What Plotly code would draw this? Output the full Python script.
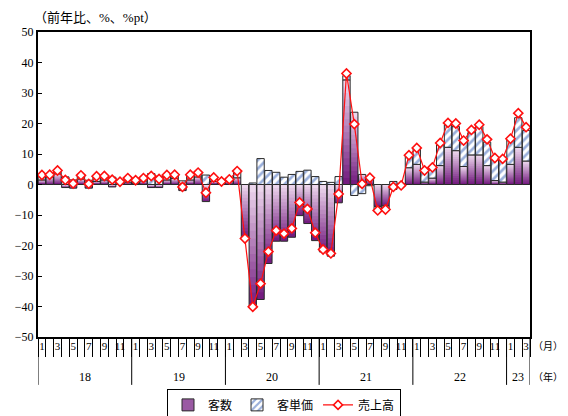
import plotly.graph_objects as go

# Year-on-year change (%, %pt), monthly Jan 2018 - Mar 2023
year_labels = ["18", "19", "20", "21", "22", "23"]
months_per_year = [12, 12, 12, 12, 12, 3]

customers = [  # 客数
    1.5, 2.5, 3.5, -1.0, -1.2, 1.8, -1.2, 1.0, 1.5, -0.8, 0.3, 0.8,
    0.5, 1.2, -1.0, -1.0, 1.5, 2.0, -2.0, 1.5, 2.5, -5.6, 1.0, 0.4,
    1.0, 2.2, -17.5, -40.5, -37.7, -25.9, -18.6, -18.6, -17.3, -10.2, -12.8, -18.4,
    -22.1, -23.5, -6.0, 34.3, 23.7, 3.3, 2.6, -7.2, -7.0, -1.6, -0.6, 5.5,
    6.6, 0.8, 2.1, 6.2, 12.2, 11.1, 5.9, 9.7, 9.7, 6.2, 1.3, 0.8,
    6.6, 12.2, 7.7,
]
unit_price = [  # 客単価
    1.6, 0.7, 1.1, 2.5, 1.5, 1.2, 1.4, 1.7, 1.3, 2.4, 0.6, 1.3,
    0.9, 0.9, 3.6, 2.7, 1.5, 1.2, 1.2, 1.7, 1.4, 3.1, 1.3, 0.6,
    0.6, 2.2, -0.2, 0.5, 8.5, 4.6, 4.0, 2.4, 3.3, 4.3, 4.7, 2.6,
    1.0, 0.7, 2.6, 1.4, -3.6, -3.0, -0.4, -1.3, -1.2, 1.0, 0.3, 3.7,
    5.1, 3.6, 3.8, 6.8, 7.4, 7.9, 8.5, 7.3, 9.3, 7.7, 6.8, 7.1,
    8.2, 9.7, 10.0,
]
sales = [  # 売上高
    3.1, 3.2, 4.6, 1.5, 0.3, 3.0, 0.2, 2.7, 2.8, 1.6, 0.9, 2.1,
    1.4, 2.1, 2.8, 1.8, 3.1, 3.2, -0.8, 3.2, 3.9, -2.7, 2.3, 1.0,
    1.7, 4.4, -17.7, -40.1, -32.5, -22.0, -15.1, -16.1, -14.4, -5.9, -8.0, -15.8,
    -21.3, -22.6, -3.1, 36.4, 19.8, 0.2, 2.2, -8.5, -8.2, -0.8, -0.3, 9.6,
    12.0, 4.6, 5.6, 13.6, 20.2, 20.0, 14.4, 17.9, 19.6, 14.8, 8.7, 8.4,
    15.0, 23.4, 18.8,
]

# category keys and month labels (odd months only)
periods, month_text, year_starts = [], [], []
for yl, n in zip(year_labels, months_per_year):
    year_starts.append(len(periods))
    for m in range(1, n + 1):
        periods.append(f"20{yl}-{m:02d}")
        month_text.append(str(m) if m % 2 == 1 else "")
year_starts.append(len(periods))

SERIF = "Liberation Serif, 'Noto Sans CJK JP', serif"
EDGE = "#2a2a2a"
LIGHT = (240, 220, 240)
DARK = (112, 22, 124)


def mix(t):
    r = [round(d + (l - d) * t) for l, d in zip(LIGHT, DARK)]
    return f"rgb({r[0]},{r[1]},{r[2]})"


fig = go.Figure()

# legend swatch for the gradient bars
fig.add_bar(x=[None], y=[None], name="客数", legendrank=1,
            marker=dict(color="#9a5aa3", line=dict(color=EDGE, width=1)))

# vertical gradient (light top, dark bottom) built from nested bars
N = 16
for j in range(N):
    f_top = (N - j) / N
    f_mid = (N - j - 0.5) / N
    fig.add_bar(
        x=periods, y=[c * f_top for c in customers],
        marker=dict(color=[mix(f_mid) if c >= 0 else mix(1 - f_mid) for c in customers],
                    line=dict(width=0)),
        showlegend=False, hoverinfo="skip",
    )
fig.add_bar(x=periods, y=customers, showlegend=False, hoverinfo="skip",
            marker=dict(color="rgba(0,0,0,0)", line=dict(color=EDGE, width=1)))

# unit price stacked on customers when signs agree, otherwise from zero
price_base = [c if (p >= 0) == (c >= 0) else 0 for c, p in zip(customers, unit_price)]
fig.add_bar(
    x=periods, y=unit_price, base=price_base, name="客単価", legendrank=2,
    marker=dict(color="white", line=dict(color=EDGE, width=1),
                pattern=dict(shape="/", fgcolor="#3560b8", bgcolor="white",
                             size=6, solidity=0.45, fillmode="overlay")),
)

fig.add_scatter(
    x=periods, y=sales, name="売上高", legendrank=3, mode="lines+markers",
    line=dict(color="#ff1010", width=1.2),
    marker=dict(symbol="diamond", size=7, color="white",
                line=dict(color="#ff1010", width=1.6)),
)

shapes, annotations = [], []
for s in year_starts:
    shapes.append(dict(type="line", xref="x", yref="paper", x0=s - 0.5, x1=s - 0.5,
                       y0=0, y1=-0.157, line=dict(color="black", width=1)))
for yl, s, n in zip(year_labels, year_starts, months_per_year):
    annotations.append(dict(xref="x", yref="paper", x=s + (n - 1) / 2, y=-0.131,
                            text=yl, showarrow=False, yanchor="middle",
                            font=dict(size=12)))
annotations += [
    dict(xref="paper", yref="paper", x=-0.012, y=1.046, xanchor="left", yanchor="middle",
         text="（前年比、%、%pt）", showarrow=False, font=dict(size=13)),
    dict(xref="paper", yref="paper", x=1.072, y=-0.03, xanchor="right", yanchor="middle",
         text="（月）", showarrow=False, font=dict(size=10)),
    dict(xref="paper", yref="paper", x=1.072, y=-0.131, xanchor="right", yanchor="middle",
         text="（年）", showarrow=False, font=dict(size=10)),
]

fig.update_layout(
    width=568, height=416,
    margin=dict(l=38, r=38, t=32, b=79, autoexpand=False),
    paper_bgcolor="white", plot_bgcolor="white",
    font=dict(family=SERIF, color="black", size=12),
    barmode="overlay", bargap=0.06,
    showlegend=True,
    legend=dict(orientation="h", x=0.5, xanchor="center",
                yref="container", y=0.064, yanchor="top",
                bordercolor="black", borderwidth=1, bgcolor="white",
                font=dict(size=12), itemwidth=30, traceorder="normal"),
    shapes=shapes, annotations=annotations,
)
fig.update_xaxes(
    type="category", range=[-0.5, len(periods) - 0.5],
    tickmode="array", tickvals=periods, ticktext=month_text,
    tickson="boundaries", ticks="outside", ticklen=18, tickwidth=1, tickcolor="black",
    ticklabelstandoff=-2, tickangle=0, tickfont=dict(size=11), automargin=False,
    showline=True, linewidth=2, linecolor="black", mirror=True, showgrid=False,
)
fig.update_yaxes(
    range=[-50, 50], dtick=10, ticks="inside", ticklen=4, tickcolor="black",
    showline=True, linewidth=2, linecolor="black", mirror=True, showgrid=False,
    zeroline=True, zerolinecolor="black", zerolinewidth=1, tickfont=dict(size=12),
    automargin=False,
)

fig.write_html("out.html", post_script="document.body.style.margin='0';")
